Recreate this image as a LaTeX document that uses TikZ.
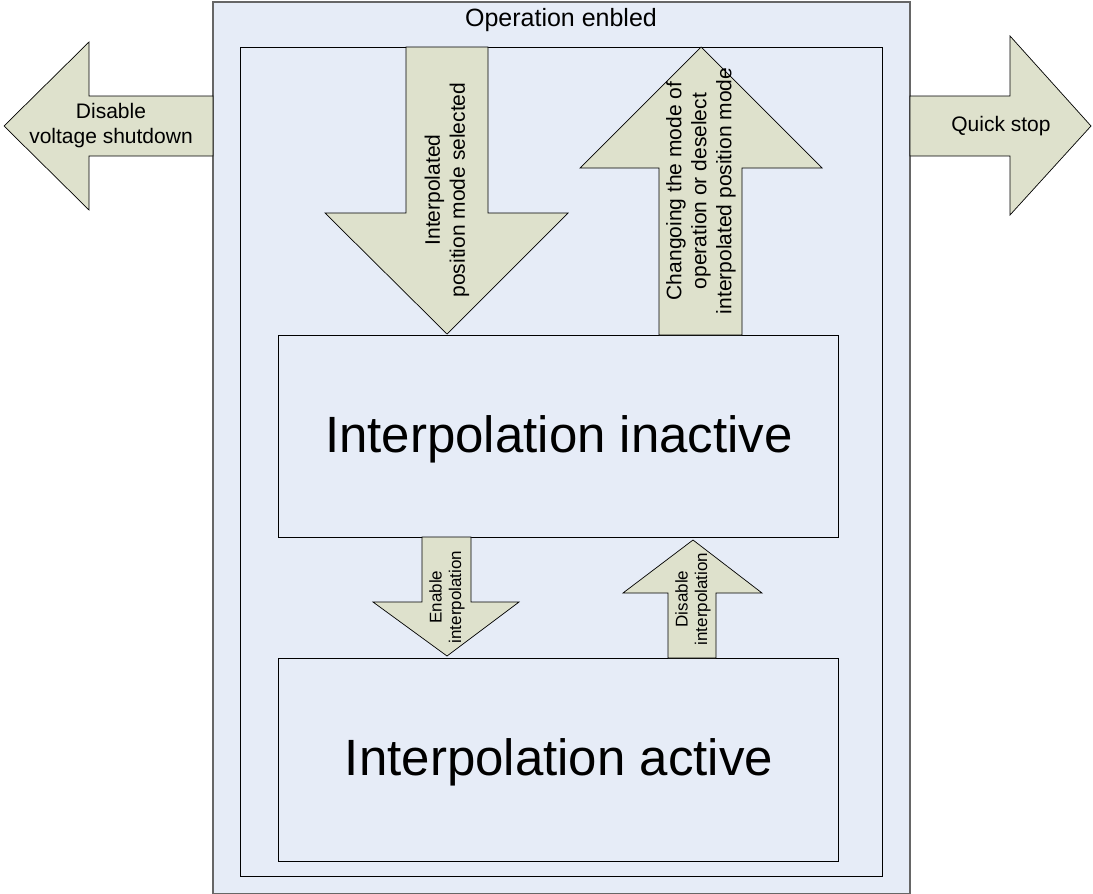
\documentclass[tikz,border=0pt]{standalone}
\usepackage{fontspec}
\setmainfont{Liberation Sans}
\definecolor{bgblue}{RGB}{230,236,247}
\definecolor{arrowfill}{RGB}{222,225,204}
\tikzset{
  panel/.style={fill=bgblue, draw=black, line width=0.9pt},
  outerpanel/.style={fill=bgblue, draw=gray!80!black, line width=1.3pt},
  blockarrow/.style={fill=arrowfill, draw=black, line width=0.7pt, line join=miter},
  lbl/.style={align=center, inner sep=0pt, font=\fontsize{21}{25}\selectfont},
  smalllbl/.style={align=center, inner sep=0pt, font=\fontsize{17}{19.5}\selectfont},
  bigtitle/.style={inner sep=0pt, font=\fontsize{51}{60}\selectfont},
}
\begin{document}
\begin{tikzpicture}[x=1pt,y=-1pt]
\useasboundingbox (0,0) rectangle (1093,894);
% outer panel
\draw[outerpanel] (213,2) rectangle (910,894);
\node[inner sep=0pt, font=\fontsize{25}{30}\selectfont] (title) at (561,20) {Operation enbled};
% inner panel
\draw[panel] (240,47) rectangle (882,876);
% state boxes
\node[panel, minimum width=560pt, minimum height=202pt, inner sep=0pt] (inactive) at (558,436) {};
\node[bigtitle] (inactivelbl) at (559,439) {Interpolation inactive};
\node[panel, minimum width=560pt, minimum height=203pt, inner sep=0pt] (active) at (558,759.5) {};
\node[bigtitle] (activelbl) at (559,762) {Interpolation active};
% left block arrow
\draw[blockarrow] (213,96) -- (89,96) -- (89,42) -- (4,126) -- (89,210) -- (89,156) -- (213,156) -- cycle;
\node[lbl] (disv) at (111,126) {Disable\\voltage shutdown};
% right block arrow
\draw[blockarrow] (910,96) -- (1010,96) -- (1010,36) -- (1091,126) -- (1010,215) -- (1010,156) -- (910,156) -- cycle;
\node[lbl] (qstop) at (1001,126) {Quick stop};
% big down arrow
\draw[blockarrow] (406,47) -- (488,47) -- (488,213) -- (568,213) -- (447,334) -- (325,213) -- (406,213) -- cycle;
\node[lbl, rotate=90] (ipsel) at (447,190) {Interpolated\\position mode selected};
% big up arrow
\draw[blockarrow] (659,335) -- (742,335) -- (742,168) -- (822,168) -- (701,47) -- (580,168) -- (659,168) -- cycle;
\node[lbl, rotate=90] (chg) at (701,191) {Changoing the mode of\\operation or deselect\\interpolated position mode};
% small down arrow
\draw[blockarrow] (422,537) -- (471,537) -- (471,602) -- (519,602) -- (447,656) -- (373,602) -- (422,602) -- cycle;
\node[smalllbl, rotate=90] (enint) at (447,597) {Enable\\interpolation};
% small up arrow
\draw[blockarrow] (668,658) -- (716,658) -- (716,593) -- (762,593) -- (693,540) -- (623,593) -- (668,593) -- cycle;
\node[smalllbl, rotate=90] (disint) at (693,599) {Disable\\interpolation};
\end{tikzpicture}
\end{document}
